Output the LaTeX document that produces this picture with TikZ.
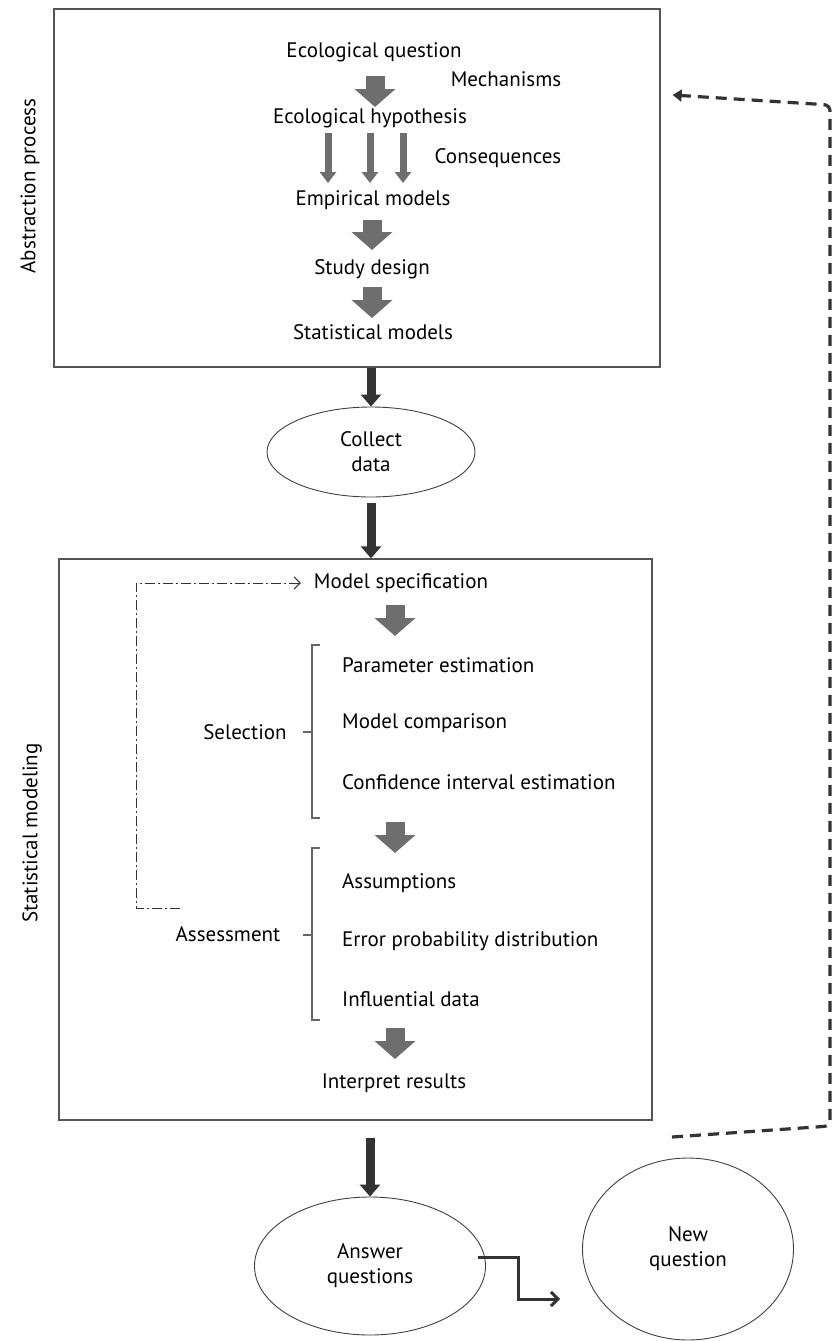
\documentclass[tikz,border=0pt]{standalone}
\usepackage{fontspec}
\setmainfont{PT Sans}
\usetikzlibrary{arrows.meta,shapes.geometric,calc}
\definecolor{fatgray}{HTML}{6E6E6E}
\definecolor{darkline}{HTML}{333333}
\definecolor{boxline}{HTML}{555555}
\tikzset{
  txt/.style={inner sep=0pt, font=\fontsize{21}{24}\selectfont},
  ltxt/.style={txt, anchor=west},
  fat/.style={fatgray, line width=19pt, -{Triangle[width=40pt,length=18pt]}},
  thin/.style={fatgray, line width=7pt, -{Triangle[width=16pt,length=11pt]}},
  dark/.style={darkline, line width=9pt, -{Triangle[width=20pt,length=12pt]}},
  frame/.style={draw=boxline, line width=1.3pt},
  oval/.style={ellipse, draw=black!75, line width=0.9pt, align=center, inner sep=0pt, font=\fontsize{21}{25}\selectfont},
  brace/.style={draw=black!60, line width=1.1pt},
  loopline/.style={darkline, line width=1pt, dash pattern=on 10pt off 3pt on 2pt off 3pt},
  backline/.style={darkline, line width=3.2pt, dash pattern=on 11pt off 7pt}
}
\begin{document}
\begin{tikzpicture}[x=1pt,y=-1pt]
\useasboundingbox (0,0) rectangle (834,1341);
% frames
\node[frame, minimum width=606pt, minimum height=358pt, inner sep=0pt] (topbox) at (357,188) {};
\node[frame, minimum width=593pt, minimum height=561pt, inner sep=0pt] (statbox) at (355.5,839.5) {};
\node[txt, rotate=90] (abs) at (30,186) {Abstraction process};
\node[txt, rotate=90] (stm) at (32,833) {Statistical modeling};
% top box contents
\node[txt] (q1) at (374,52) {Ecological question};
\node[txt] (mech) at (506,79) {Mechanisms};
\node[txt] (h1) at (370,118) {Ecological hypothesis};
\node[txt] (cons) at (498,158) {Consequences};
\node[txt] (emp) at (373,200) {Empirical models};
\node[txt] (sd) at (372,269) {Study design};
\node[txt] (sm) at (373,332) {Statistical models};
\draw[fat] ($(q1)+(1,24)$) -- ($(q1)+(1,55)$);
\draw[thin] ($(h1)+(-42,15)$) -- ($(h1)+(-42,65)$);
\draw[thin] ($(h1)+(0,15)$) -- ($(h1)+(0,65)$);
\draw[thin] ($(h1)+(33,15)$) -- ($(h1)+(33,65)$);
\draw[fat] ($(emp)+(-1,20)$) -- ($(emp)+(-1,50)$);
\draw[fat] ($(sd)+(0,18)$) -- ($(sd)+(0,49)$);
% collect data
\node[oval, minimum width=208pt, minimum height=90pt] (cd) at (371,452) {Collect\\data};
\draw[dark] (topbox.south -| cd.north) -- (cd.north);
\draw[dark] ($(cd.south)+(0,6)$) -- (statbox.north -| cd.south);
% statistical box contents
\node[txt] (ms) at (401,583) {Model specification};
\node[ltxt] (pe) at (342,665) {Parameter estimation};
\node[ltxt] (mc) at (342,723) {Model comparison};
\node[ltxt] (ci) at (342,782) {Confidence interval estimation};
\node[ltxt] (as) at (342,883) {Assumptions};
\node[ltxt] (ep) at (342,941) {Error probability distribution};
\node[ltxt] (id) at (342,999) {Influential data};
\node[txt] (ir) at (394,1083) {Interpret results};
\node[txt] (sel) at (245,732) {Selection};
\node[txt] (ass) at (228,934) {Assessment};
\draw[fat] (395,605) -- (395,636);
\draw[fat] (395,822) -- (395,853);
\draw[fat] (395,1028) -- (395,1059);
% braces
\draw[brace] (320,645) -- (312,645) -- (312,818) -- (320,818);
\draw[brace] (303,732) -- (312,732);
\draw[brace] (320,848) -- (312,848) -- (312,1020) -- (320,1020);
\draw[brace] (303,935) -- (312,935);
% loop back
\coordinate (lb) at (180,908);
\draw[loopline, -{Straight Barb[length=6pt,width=12pt]}] (lb) -- (136,908) -- (136,583) -- ($(ms.west)+(-13,0)$);
% answer and new question
\node[oval, minimum width=231pt, minimum height=138pt] (aq) at (370,1266) {Answer\\questions};
\node[oval, minimum width=211pt, minimum height=182pt] (nq) at (688,1249) {New\\question};
\draw[dark] (statbox.south -| aq.north) ++(0,17) -- (aq.north);
\draw[darkline, line width=3pt, -{Straight Barb[length=7pt,width=14pt]}] (478,1257) -- (518,1257) -- (518,1299) -- ($(nq.west)+(-22,50)$);
% dashed feedback
\coordinate (fb) at (672,1137);
\draw[backline, -{Triangle[length=9pt,width=12pt]}, rounded corners=6pt] (fb) -- (830,1126) -- (830,105) -- ($(topbox.east)+(12,-93)$);
\end{tikzpicture}
\end{document}
